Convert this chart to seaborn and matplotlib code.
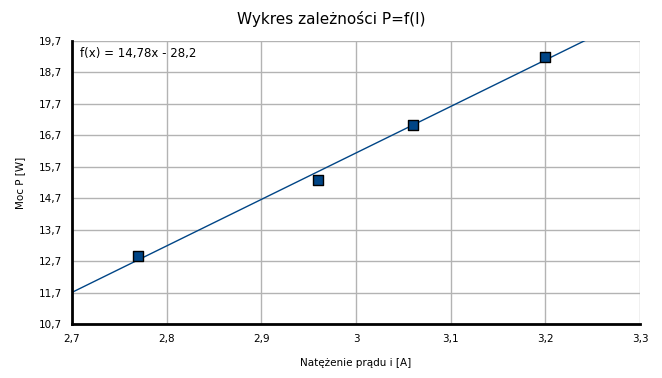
import matplotlib
matplotlib.use("Agg")
import matplotlib.pyplot as plt
import matplotlib.ticker as mticker
import seaborn as sns
import numpy as np
import pandas as pd

# Data
current = [2.77, 2.96, 3.06, 3.20]
power = [12.86, 15.29, 17.04, 19.18]
slope = 14.78
intercept = -28.2
x_ticks = [2.7, 2.8, 2.9, 3.0, 3.1, 3.2, 3.3]
y_ticks = [10.7, 11.7, 12.7, 13.7, 14.7, 15.7, 16.7, 17.7, 18.7, 19.7]
title = "Wykres zależności P=f(I)"
xlabel = "Natężenie prądu i [A]"
ylabel = "Moc P [W]"
eq_label = "f(x) = 14,78x - 28,2"

sns.set_style("white")
plt.rcParams['font.family'] = ['DejaVu Sans']
plt.rcParams['text.color'] = 'black'
plt.rcParams['axes.labelcolor'] = 'black'

df = pd.DataFrame({"I": current, "P": power})
trend_x = [x_ticks[0], x_ticks[-1]]
trend = pd.DataFrame({"I": trend_x, "P": [slope * v + intercept for v in trend_x]})

fig = plt.figure(figsize=(6.62, 3.78), dpi=100)
ax = fig.add_axes([0.1088, 0.1429, 0.858, 0.7486])

color = "#004586"
sns.lineplot(data=trend, x="I", y="P", ax=ax, color=color, linewidth=1.0, zorder=3)
sns.scatterplot(data=df, x="I", y="P", ax=ax, marker="s", s=55, color=color,
                edgecolor="black", linewidth=1.0, zorder=4)

ax.set_xlim(x_ticks[0], x_ticks[-1])
ax.set_ylim(y_ticks[0], y_ticks[-1])
ax.set_xticks(x_ticks)
ax.set_yticks(y_ticks)

def comma_fmt(v, pos):
    s = f"{v:.1f}"
    if s.endswith(".0"):
        s = s[:-2]
    return s.replace(".", ",")

ax.xaxis.set_major_formatter(mticker.FuncFormatter(comma_fmt))
ax.yaxis.set_major_formatter(mticker.FuncFormatter(comma_fmt))

ax.grid(True, color="#b3b3b3", linewidth=1.0)
ax.set_axisbelow(True)
for side in ["top", "right"]:
    ax.spines[side].set_visible(False)
for side in ["left", "bottom"]:
    ax.spines[side].set_color("black")
    ax.spines[side].set_linewidth(2.0)
    ax.spines[side].set_zorder(5)

ax.tick_params(axis="both", which="major", direction="out", length=4, width=1.5,
               labelsize=7.5, colors="black", pad=3)
ax.set_xlabel(xlabel, fontsize=7.5, labelpad=10, color="black")
ax.set_ylabel(ylabel, fontsize=7.5, labelpad=10, color="black")
fig.suptitle(title, fontsize=11, y=0.97, color="black")

ax.text(0.014, 0.955, eq_label, transform=ax.transAxes, fontsize=8.5,
        va="center", ha="left", color="black")

fig.savefig("out.png", dpi=100)
